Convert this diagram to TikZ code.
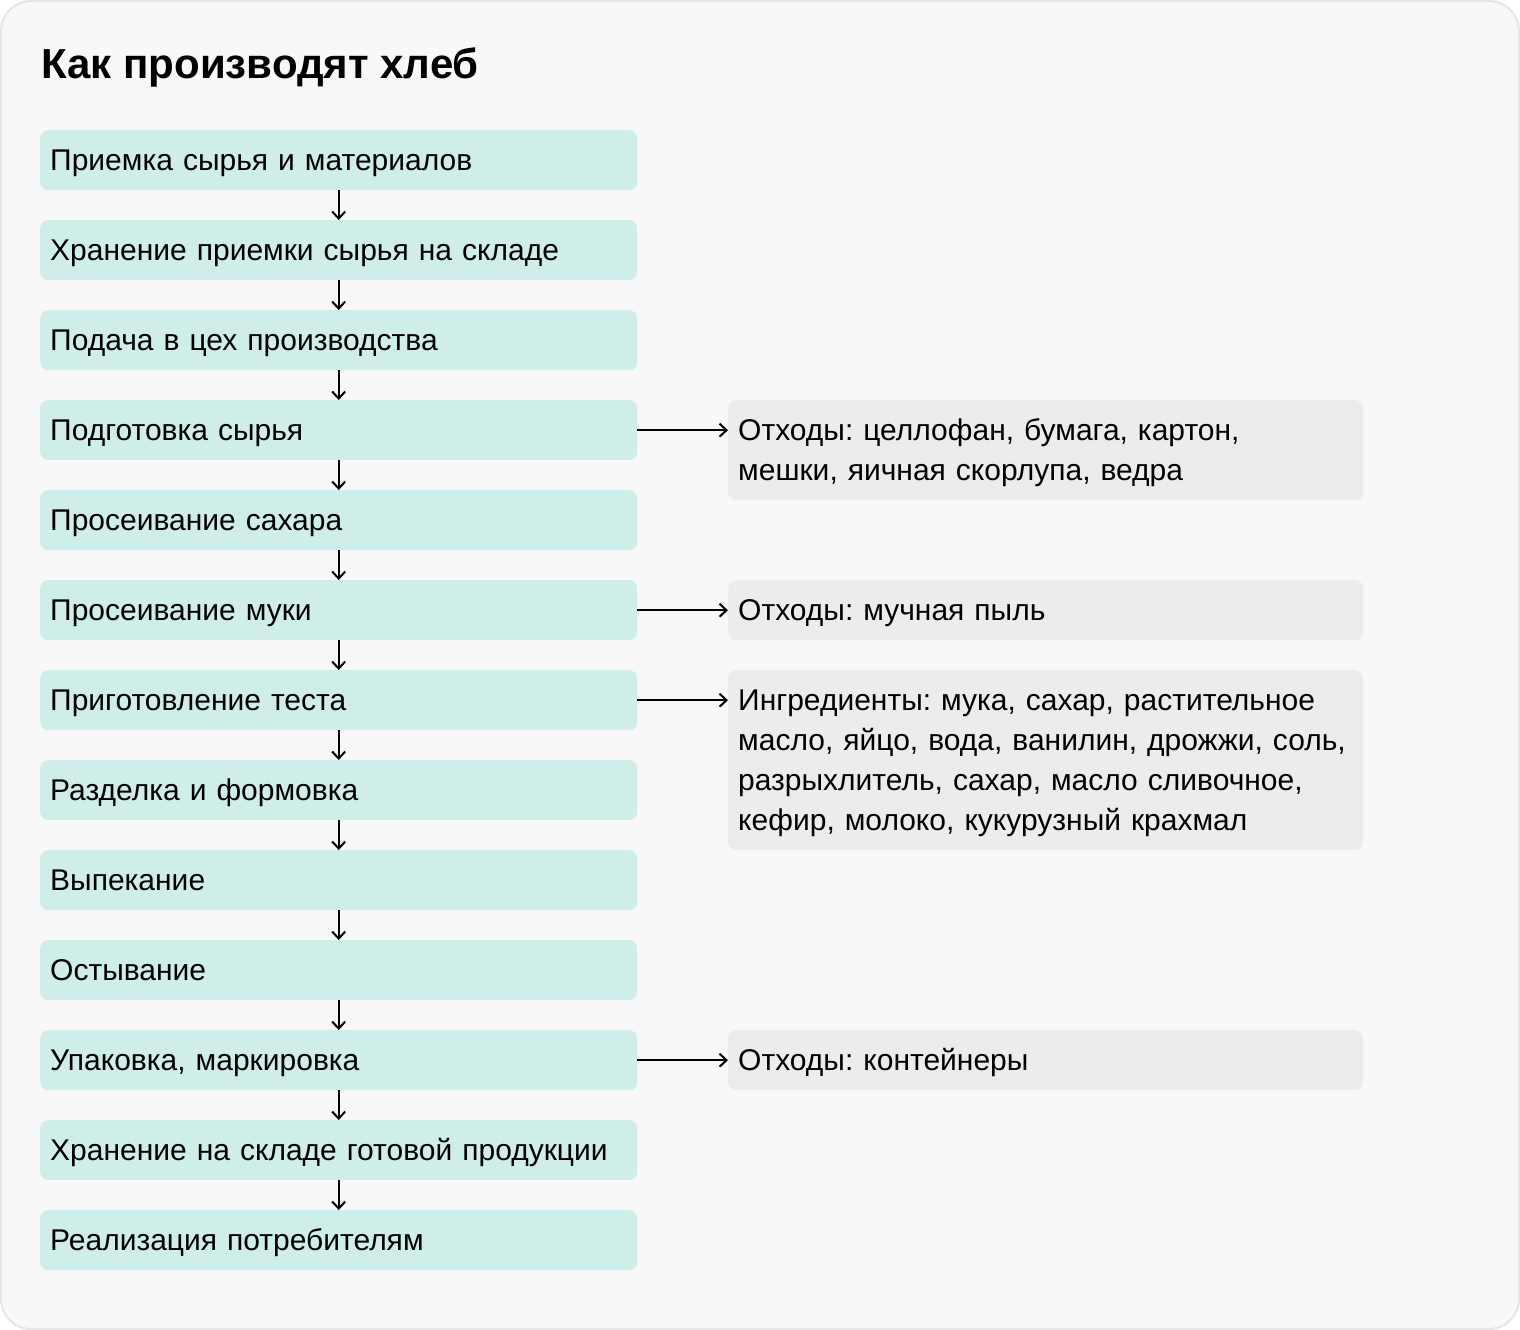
\documentclass[tikz,border=0pt]{standalone}
\usepackage{fontspec}
\setmainfont{Liberation Sans}
\frenchspacing
\usetikzlibrary{arrows.meta}
\usetikzlibrary{calc}
\definecolor{pagebg}{RGB}{248,248,248}
\definecolor{frame}{RGB}{230,230,230}
\definecolor{mint}{RGB}{207,238,234}
\definecolor{notegray}{RGB}{236,236,236}

\begin{document}
\begin{tikzpicture}[x=1pt,y=-1pt]
\tikzset{
  stage/.style={anchor=north west, fill=mint, rounded corners=8pt,
    minimum width=597pt, minimum height=60pt, text width=577pt,
    inner xsep=10pt, inner ysep=0pt, align=left,
    text height=24pt, text depth=4pt,
    font=\fontsize{30}{40}\selectfont},
  note/.style={stage, fill=notegray, minimum width=635pt, text width=615pt},
  flow/.style={-{Straight Barb[length=7pt,width=13pt]}, line width=2pt}
}
% draw background card
\useasboundingbox (0,0) rectangle (1520,1330);
\draw[fill=pagebg, draw=frame, line width=2pt, rounded corners=30pt] (1,1) rectangle (1519,1329);
% title
\node[anchor=base west, inner sep=0pt, font=\fontsize{42}{50}\selectfont\bfseries] (title) at (41,78) {Как производят хлеб};
% draw stages
\node[stage] (s1) at (40,130) {Приемка сырья и материалов};
\node[stage] (s2) at (40,220) {Хранение приемки сырья на складе};
\node[stage] (s3) at (40,310) {Подача в цех производства};
\node[stage] (s4) at (40,400) {Подготовка сырья};
\node[stage] (s5) at (40,490) {Просеивание сахара};
\node[stage] (s6) at (40,580) {Просеивание муки};
\node[stage] (s7) at (40,670) {Приготовление теста};
\node[stage] (s8) at (40,760) {Разделка и формовка};
\node[stage] (s9) at (40,850) {Выпекание};
\node[stage] (s10) at (40,940) {Остывание};
\node[stage] (s11) at (40,1030) {Упаковка, маркировка};
\node[stage] (s12) at (40,1120) {Хранение на складе готовой продукции};
\node[stage] (s13) at (40,1210) {Реализация потребителям};
% draw side notes
\node[note, minimum height=100pt, text depth=44pt] (w1) at (728,400) {Отходы: целлофан, бумага, картон,\\мешки, яичная скорлупа, ведра};
\node[note] (w2) at (728,580) {Отходы: мучная пыль};
\node[note, minimum height=180pt, text depth=124pt] (w3) at (728,670) {Ингредиенты: мука, сахар, растительное\\масло, яйцо, вода, ванилин, дрожжи, соль,\\разрыхлитель, сахар, масло сливочное,\\кефир, молоко, кукурузный крахмал};
\node[note] (w4) at (728,1030) {Отходы: контейнеры};
% draw arrows down the chain
\draw[flow] (s1.south) -- (s2.north);
\draw[flow] (s2.south) -- (s3.north);
\draw[flow] (s3.south) -- (s4.north);
\draw[flow] (s4.south) -- (s5.north);
\draw[flow] (s5.south) -- (s6.north);
\draw[flow] (s6.south) -- (s7.north);
\draw[flow] (s7.south) -- (s8.north);
\draw[flow] (s8.south) -- (s9.north);
\draw[flow] (s9.south) -- (s10.north);
\draw[flow] (s10.south) -- (s11.north);
\draw[flow] (s11.south) -- (s12.north);
\draw[flow] (s12.south) -- (s13.north);
% draw arrows to the notes
\draw[flow] (s4.east) -- (s4.east -| w1.west);
\draw[flow] (s6.east) -- (w2.west);
\draw[flow] (s7.east) -- (s7.east -| w3.west);
\draw[flow] (s11.east) -- (w4.west);
\end{tikzpicture}
\end{document}
